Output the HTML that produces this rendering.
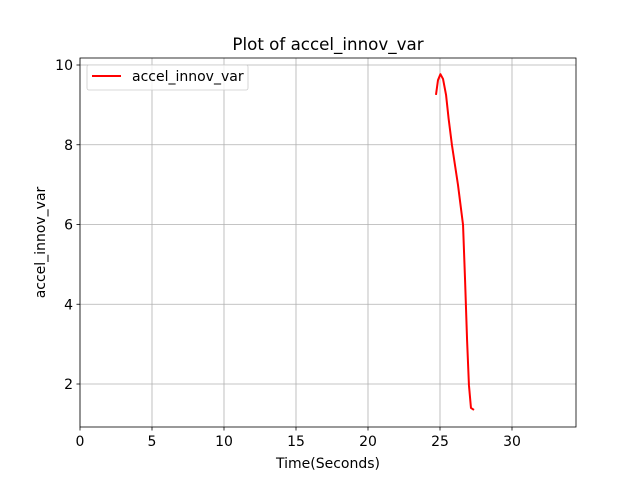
<!DOCTYPE html>
<html><head><meta charset="utf-8"><style>
body{margin:0;background:#fff}
svg text{font-family:"DejaVu Sans","Liberation Sans",sans-serif;fill:#000}
</style></head><body>
<svg id="chart" width="640" height="480" xmlns="http://www.w3.org/2000/svg">
<rect width="640" height="480" fill="#fff"/>
<g id="grid"></g>
<g id="ticks"></g>
<polyline id="line" fill="none" stroke="#ff0000" stroke-width="2" stroke-linejoin="round"/>
<rect x="80" y="58" width="496" height="369" fill="none" stroke="#000" stroke-width="0.8"/>
<text x="328" y="50" font-size="16.7" text-anchor="middle">Plot of accel_innov_var</text>
<text x="328" y="468" font-size="14" text-anchor="middle">Time(Seconds)</text>
<text transform="translate(45,242.5) rotate(-90)" font-size="14" text-anchor="middle">accel_innov_var</text>
<g>
<rect x="87" y="65" width="161" height="25" rx="2" fill="#fff" fill-opacity="0.8" stroke="#ccc" stroke-width="0.8"/>
<line x1="92" y1="76" x2="121" y2="76" stroke="#ff0000" stroke-width="2"/>
<text x="132" y="81" font-size="14">accel_innov_var</text>
</g>
</svg>
<script>
const xs=[24.72,24.86,25.03,25.21,25.42,25.6,25.83,26.25,26.6,26.74,26.88,27.01,27.15,27.36];
const ys=[9.25,9.62,9.77,9.65,9.25,8.65,7.99,6.99,5.99,4.61,3.10,1.97,1.40,1.35];
const xTicks=[0,5,10,15,20,25,30];
const yTicks=[2,4,6,8,10];
const X=v=>80+(v-0)*14.4;
const Y=v=>65+(10-v)*39.875;
const ns="http://www.w3.org/2000/svg";
const grid=document.getElementById('grid'),ticks=document.getElementById('ticks');
function mk(t,a,p){const e=document.createElementNS(ns,t);for(const k in a)e.setAttribute(k,a[k]);p.appendChild(e);return e;}
xTicks.forEach(v=>{const x=X(v);
const g=mk('line',{x1:x,x2:x,y1:58,y2:427,stroke:'#b0b0b0','stroke-width':0.8},grid);


const t=mk('line',{x1:x,x2:x,y1:427,y2:430.5,stroke:'#000','stroke-width':0.8},ticks);


const l=mk('text',{x:x,y:446,'font-size':14,'text-anchor':'middle'},ticks);l.textContent=v;


});
yTicks.forEach(v=>{const y=Y(v);
const g=mk('line',{x1:80,x2:576,y1:y,y2:y,stroke:'#b0b0b0','stroke-width':0.8},grid);


const t=mk('line',{x1:76.5,x2:80,y1:y,y2:y,stroke:'#000','stroke-width':0.8},ticks);


const l=mk('text',{x:73,y:y+5,'font-size':14,'text-anchor':'end'},ticks);l.textContent=v;


});
document.getElementById('line').setAttribute('points',xs.map((v,i)=>X(v)+','+Y(ys[i])).join(' '));
</script>
</body></html>
